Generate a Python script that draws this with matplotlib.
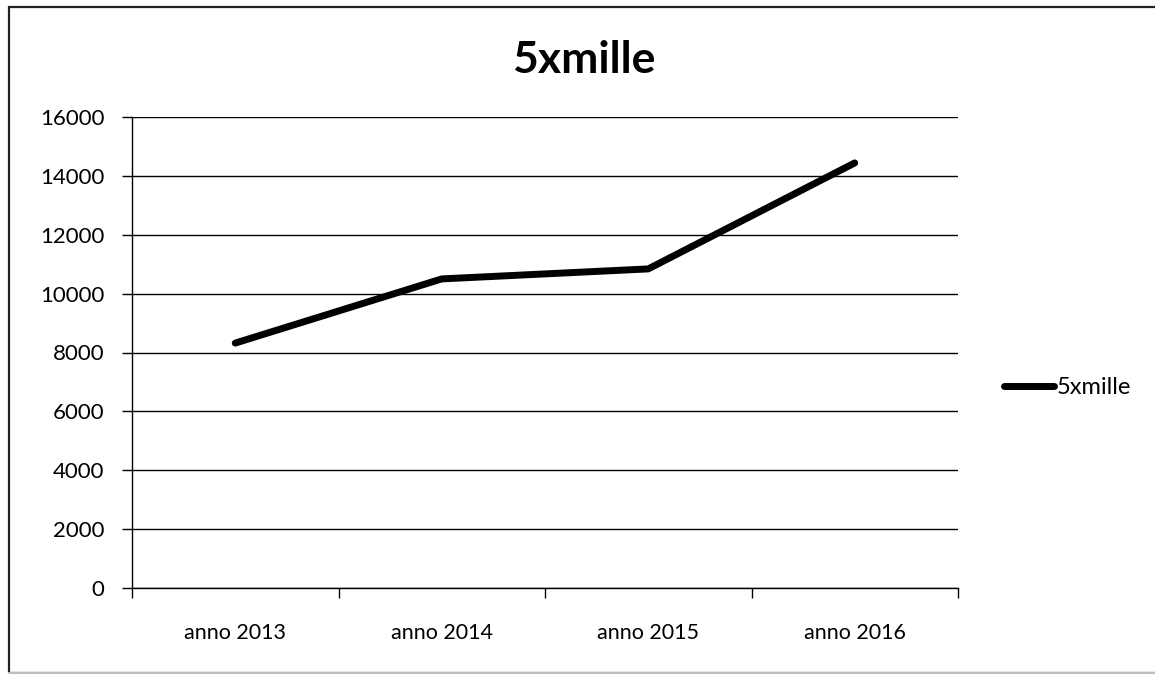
import matplotlib
matplotlib.use("Agg")
import matplotlib.pyplot as plt
from matplotlib.patches import Rectangle

categories = ["anno 2013", "anno 2014", "anno 2015", "anno 2016"]
values = [8320, 10500, 10840, 14440]
series_name = "5xmille"
title = "5xmille"
yticks = [0, 2000, 4000, 6000, 8000, 10000, 12000, 14000, 16000]

plt.rcParams['font.family'] = ['Lato', 'DejaVu Sans']

W, H = 1155, 674
fig = plt.figure(figsize=(W/100, H/100), dpi=100)
fig.patch.set_facecolor('white')

# outer chart border
fig.add_artist(Rectangle((9/W, 1-673/H), (W+20)/W, (673-7)/H, transform=fig.transFigure,
                         fill=False, edgecolor='#222222', linewidth=1.6))
fig.add_artist(plt.Line2D([9/W, 1], [1-673/H, 1-673/H], transform=fig.transFigure,
                          color='#dddddd', linewidth=1.2))

ax = fig.add_axes([132/W, 1-588/H, (958-132)/W, (588-117)/H])
x = list(range(len(categories)))
ax.plot(x, values, color='black', linewidth=5, solid_capstyle='round',
        solid_joinstyle='round', label=series_name, zorder=3)

ax.set_xlim(-0.5, len(categories)-0.5)
ax.set_ylim(0, 16000)
ax.set_yticks(yticks)
ax.set_yticklabels([str(v) for v in yticks], fontsize=16)
ax.yaxis.grid(True, color='black', linewidth=1.0)
ax.set_axisbelow(True)

ax.set_xticks(x)
ax.set_xticklabels(categories, fontsize=15.5)
ax.set_xticks([i-0.5 for i in range(len(categories)+1)], minor=True)
ax.tick_params(axis='x', which='major', length=0, pad=25)
ax.tick_params(axis='x', which='minor', length=7, width=1, direction='out', color='black')
ax.tick_params(axis='y', length=7, width=1, direction='out', color='black', pad=13)

for s in ['top', 'right']:
    ax.spines[s].set_visible(False)
for s in ['left', 'bottom']:
    ax.spines[s].set_color('black')
    ax.spines[s].set_linewidth(1.0)

fig.text(584/W, 1-60/H, title, ha='center', va='center', fontsize=32, fontweight='bold')

leg = ax.legend(loc='center left', bbox_to_anchor=(995/W, 1-388/H), bbox_transform=fig.transFigure,
                frameon=False, handlelength=2.1, handletextpad=0.1, borderaxespad=0,
                prop={'size': 17})

fig.savefig("out.png", dpi=100, facecolor='white')
